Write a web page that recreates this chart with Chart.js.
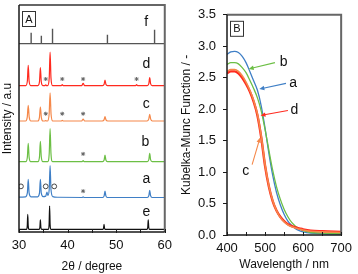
<!DOCTYPE html>
<html><head><meta charset="utf-8">
<script src="https://cdn.jsdelivr.net/npm/chart.js@4"></script>
<style>
html,body{margin:0;padding:0;background:#fff;width:358px;height:274px;overflow:hidden}
#wa{position:absolute;left:0;top:0;width:178px;height:274px}
#wb{position:absolute;left:176px;top:0;width:182px;height:274px}
</style></head><body>
<div id="wa"><canvas id="ca"></canvas></div>
<div id="wb"><canvas id="cb"></canvas></div>
<script>
// ================= Panel A : XRD patterns (2θ, relative intensity) =================
const xrdTicks = [30, 40, 50, 60];
const xrdMinorTicks = [30, 35, 40, 45, 50, 55, 60];
const xrdLabels = ['f', 'd', 'c', 'b', 'a', 'e'];
// reference sticks f: [2θ, height]
const sticksF = [[32.5, 4.8], [34.6, 3.5], [36.9, 6.5], [48.2, 3.9], [57.9, 6.1]];
const xrdD = [[30,0],[31.4,0],[31.72,2.0],[31.9,8.9],[32.08,2.0],[32.4,0],[33.9,0],[34.22,1.8],[34.4,7.9],[34.58,1.8],[34.9,0],[35.3,0],[35.5,0.3],[35.7,0],[35.9,0],[36.22,3.4],[36.4,14.7],[36.58,3.4],[36.9,0],[38.7,0],[38.9,0.4],[39.1,0],[42.9,0],[43.2,1.0],[43.5,0],[47.2,0],[47.52,0.6],[47.7,2.4],[47.88,0.6],[48.2,0],[54.0,0],[54.2,0.4],[54.4,0],[56.4,0],[56.72,0.9],[56.9,3.5],[57.08,0.9],[57.4,0],[60,0]];
const xrdC = [[30,0],[31.35,0],[31.7,1.7],[31.9,6.9],[32.1,1.7],[32.45,0],[33.85,0],[34.2,1.5],[34.4,6.1],[34.6,1.5],[34.95,0],[35.3,0],[35.5,0.2],[35.7,0],[35.85,0],[36.2,3.0],[36.4,12.4],[36.6,3.0],[36.95,0],[38.7,0],[38.9,0.3],[39.1,0],[42.9,0],[43.2,0.8],[43.5,0],[47.15,0],[47.5,0.5],[47.7,1.9],[47.9,0.5],[48.25,0],[56.35,0],[56.7,0.8],[56.9,2.9],[57.1,0.8],[57.45,0],[60,0]];
const xrdB = [[30,0],[31.4,0],[31.72,2.0],[31.9,8.0],[32.08,2.0],[32.4,0],[33.9,0],[34.22,2.2],[34.4,8.9],[34.58,2.2],[34.9,0],[35.9,0],[36.22,3.6],[36.4,14.5],[36.58,3.6],[36.9,0],[43.0,0],[43.2,0.4],[43.4,0],[47.2,0],[47.52,0.7],[47.7,2.9],[47.88,0.7],[48.2,0],[56.4,0],[56.72,0.9],[56.9,3.6],[57.08,0.9],[57.4,0],[60,0]];
const xrdA = [[30,0.2],[31.35,0.3],[31.72,2.0],[31.9,8.0],[32.08,2.0],[32.45,0.3],[33.85,0.3],[34.22,2.0],[34.4,8.0],[34.58,2.0],[34.95,0.4],[35.5,0.6],[35.75,2.4],[35.95,0.9],[36.22,3.6],[36.4,14.1],[36.58,3.6],[36.95,0.4],[38.0,0.1],[43.0,0],[43.2,0.3],[43.4,0],[47.2,0],[47.52,0.7],[47.7,2.8],[47.88,0.7],[48.2,0],[56.4,0],[56.72,0.8],[56.9,3.2],[57.08,0.8],[57.4,0],[60,0]];
const xrdE = [[30,0],[31.55,0],[31.7,1.4],[31.8,6.6],[31.9,1.4],[32.05,0],[34.15,0],[34.3,0.9],[34.4,4.1],[34.5,0.9],[34.65,0],[36.05,0],[36.2,2.2],[36.3,10.2],[36.4,2.2],[36.55,0],[47.25,0],[47.4,0.5],[47.5,2.2],[47.6,0.5],[47.75,0],[56.35,0],[56.5,0.9],[56.6,4.1],[56.7,0.9],[56.85,0],[60,0]];
// impurity marks: stars (*) and circles (o), [2θ, height above own baseline]
const starsD = [[35.5,2.9],[38.9,2.9],[43.2,2.9],[54.2,2.9]];
const starsC = [[35.5,3.2],[38.9,3.2],[43.2,3.2]];
const starsB = [[43.2,3.4]];
const starsA = [[43.2,2.8]];
const circlesA = [[30.4,4.9],[35.5,4.9],[37.25,4.9]];
// vertical stacking of the patterns
const stackOffset = {f: 83, d: 64.5, c: 48.9, b: 31, a: 15.2, e: 1.2};
const labelSpot = {f: [56.2, 92.3], d: [56.2, 74.1], c: [56.2, 56.2], b: [56.0, 39.4], a: [56.2, 23.4], e: [56.2, 8.9]};

// ================= Panel B : Kubelka-Munk spectra =================
const wavelength = [400,410,420,430,440,450,460,470,480,490,500,510,520,530,540,550,560,570,580,590,600,620,650,700];
const kmA = [2.87,2.91,2.92,2.90,2.84,2.74,2.60,2.45,2.30,2.05,1.70,1.30,0.95,0.68,0.48,0.33,0.22,0.15,0.10,0.07,0.05,0.03,0.02,0.01];
const kmB = [2.71,2.74,2.74,2.72,2.66,2.58,2.46,2.33,2.18,1.97,1.68,1.35,1.03,0.77,0.57,0.41,0.29,0.20,0.14,0.10,0.07,0.04,0.03,0.02];
const kmC = [2.60,2.63,2.63,2.60,2.53,2.43,2.30,2.14,1.92,1.57,1.12,0.78,0.55,0.39,0.28,0.21,0.16,0.13,0.11,0.095,0.08,0.06,0.05,0.04];
const kmD = [2.57,2.60,2.60,2.57,2.50,2.40,2.28,2.12,1.90,1.55,1.10,0.77,0.54,0.39,0.29,0.22,0.17,0.14,0.12,0.105,0.09,0.07,0.06,0.05];
const kmTicks = [0,0.5,1,1.5,2,2.5,3,3.5];
const wlMinorTicks = [400,450,500,550,600,650,700];
// callouts: label, [label x, y], [line start], [arrow tip]
const callouts = [
  {t:'b', c:'#6cbf45', lab:[549,2.75], from:[526,2.74], to:[457,2.64]},
  {t:'a', c:'#3f7fc6', lab:[574,2.42], from:[555,2.41], to:[485,2.32]},
  {t:'d', c:'#ff2a1f', lab:[577,1.99], from:[560,1.98], to:[488,1.90]},
  {t:'c', c:'#f5884a', lab:[449,1.02], from:[466,1.12], to:[487,1.55]}
];

const FONT = '"Liberation Sans", Arial, sans-serif';
Chart.defaults.font.family = FONT;
Chart.defaults.color = '#111';

function pts(arr, off){ return arr.map(p => ({x: p[0], y: p[1] + off})); }
function stickPath(st, off){
  const out = [{x: 30, y: off}];
  st.forEach(s => { out.push({x:s[0], y:off}, {x:s[0], y:off + s[1]}, {x:s[0], y:off}); });
  out.push({x: 60, y: off});
  return out;
}
function lineDs(data, color, w){
  return {type:'line', data, borderColor:color, borderWidth:w, pointRadius:0, fill:false, cubicInterpolationMode:'monotone', order:2};
}
function markDs(arr, off, style){
  return {type:'scatter', data: pts(arr, off), pointStyle: style, pointRadius: style==='star'?2.0:2.4,
    borderColor: style==='star'?'#666':'#333', backgroundColor: style==='star'?'#666':'#fff', borderWidth: style==='star'?1.0:0.9, order:1};
}

function drawFrame(ctx, ca){
  ctx.save();
  ctx.lineWidth = 2; ctx.strokeStyle = '#666';
  ctx.beginPath(); ctx.moveTo(ca.left, ca.top); ctx.lineTo(ca.right, ca.top); ctx.lineTo(ca.right, ca.bottom); ctx.stroke();
  ctx.lineWidth = 1.5; ctx.strokeStyle = '#1a1a1a';
  ctx.beginPath(); ctx.moveTo(ca.left, ca.top); ctx.lineTo(ca.left, ca.bottom); ctx.lineTo(ca.right, ca.bottom); ctx.stroke();
  ctx.restore();
}
function drawMinor(ctx, ca, xs, vals){
  ctx.save(); ctx.strokeStyle = '#1a1a1a'; ctx.lineWidth = 1;
  ctx.beginPath();
  vals.forEach(v => { const px = Math.round(xs.getPixelForValue(v)) + 0.5; ctx.moveTo(px, ca.bottom + 1); ctx.lineTo(px, ca.bottom - 3); });
  ctx.stroke(); ctx.restore();
}
function drawBoxLabel(ctx, ca, txt){
  ctx.save();
  ctx.strokeStyle = '#333'; ctx.lineWidth = 1;
  ctx.strokeRect(ca.left + 3.5, ca.top + 6.5, 13, 15);
  ctx.fillStyle = '#111'; ctx.font = '11px ' + FONT; ctx.textAlign = 'center'; ctx.textBaseline = 'middle';
  ctx.fillText(txt, ca.left + 10, ca.top + 14.5);
  ctx.restore();
}

const decoA = {
  id: 'decoA',
  afterDraw(chart){
    const {ctx, chartArea: ca, scales: {x, y}} = chart;
    drawFrame(ctx, ca);
    drawMinor(ctx, ca, x, xrdMinorTicks);
    drawBoxLabel(ctx, ca, 'A');
    ctx.save();
    ctx.fillStyle = '#111'; ctx.font = '14px ' + FONT; ctx.textAlign = 'center'; ctx.textBaseline = 'middle';
    xrdLabels.forEach(k => { const p = labelSpot[k]; ctx.fillText(k, x.getPixelForValue(p[0]), y.getPixelForValue(p[1])); });
    ctx.restore();
  }
};

new Chart(document.getElementById('ca'), {
  data: {
    datasets: [
      lineDs(stickPath(sticksF, stackOffset.f), '#555', 1.4),
      lineDs(pts(xrdD, stackOffset.d), '#ff2a1f', 1.2),
      lineDs(pts(xrdC, stackOffset.c), '#f5884a', 1.2),
      lineDs(pts(xrdB, stackOffset.b), '#6cbf45', 1.2),
      lineDs(pts(xrdA, stackOffset.a), '#3f7fc6', 1.2),
      lineDs(pts(xrdE, stackOffset.e), '#111', 1.2),
      markDs(starsD, stackOffset.d, 'star'),
      markDs(starsC, stackOffset.c, 'star'),
      markDs(starsB, stackOffset.b, 'star'),
      markDs(starsA, stackOffset.a, 'star'),
      markDs(circlesA, stackOffset.a, 'circle')
    ]
  },
  options: {
    responsive: true, maintainAspectRatio: false, animation: false, devicePixelRatio: 1,
    layout: {padding: {top: 3, right: 13, left: 0, bottom: 0}},
    plugins: {legend: {display: false}, tooltip: {enabled: false}},
    scales: {
      x: {type: 'linear', min: 30, max: 60, offset: false,
        afterBuildTicks: s => { s.ticks = xrdTicks.map(v => ({value: v})); },
        afterFit: s => { s.height = 42; },
        grid: {display: false, drawTicks: false}, border: {display: false},
        ticks: {font: {size: 13}, padding: 6, maxRotation: 0, color: '#111'},
        title: {display: true, text: '2θ / degree', font: {size: 12}, padding: {top: 0, bottom: 0}, color: '#111'}},
      y: {type: 'linear', min: 0, max: 100,
        afterFit: s => { s.width = 19; },
        grid: {display: false, drawTicks: false}, border: {display: false},
        ticks: {display: false},
        title: {display: true, text: 'Intensity / a.u', font: {size: 12}, padding: {top: 0, bottom: 0}, color: '#111'}}
    }
  },
  plugins: [decoA]
});

const decoB = {
  id: 'decoB',
  afterDraw(chart){
    const {ctx, chartArea: ca, scales: {x, y}} = chart;
    drawFrame(ctx, ca);
    drawMinor(ctx, ca, x, wlMinorTicks);
    drawBoxLabel(ctx, ca, 'B');
    ctx.save();
    callouts.forEach(o => {
      const x0 = x.getPixelForValue(o.from[0]), y0 = y.getPixelForValue(o.from[1]);
      const x1 = x.getPixelForValue(o.to[0]), y1 = y.getPixelForValue(o.to[1]);
      const ang = Math.atan2(y1 - y0, x1 - x0);
      ctx.strokeStyle = o.c; ctx.fillStyle = o.c; ctx.lineWidth = 1.1;
      ctx.beginPath(); ctx.moveTo(x0, y0); ctx.lineTo(x1 - 4 * Math.cos(ang), y1 - 4 * Math.sin(ang)); ctx.stroke();
      ctx.beginPath(); ctx.moveTo(x1, y1);
      ctx.lineTo(x1 - 5 * Math.cos(ang) + 2.2 * Math.sin(ang), y1 - 5 * Math.sin(ang) - 2.2 * Math.cos(ang));
      ctx.lineTo(x1 - 5 * Math.cos(ang) - 2.2 * Math.sin(ang), y1 - 5 * Math.sin(ang) + 2.2 * Math.cos(ang));
      ctx.closePath(); ctx.fill();
      ctx.fillStyle = '#111'; ctx.font = '14px ' + FONT; ctx.textAlign = 'center'; ctx.textBaseline = 'middle';
      ctx.fillText(o.t, x.getPixelForValue(o.lab[0]), y.getPixelForValue(o.lab[1]));
    });
    ctx.restore();
  }
};

const toXY = arr => arr.map((v, i) => ({x: wavelength[i], y: v}));
new Chart(document.getElementById('cb'), {
  data: {
    datasets: [
      {type:'line', data: toXY(kmC), borderColor:'#f5884a', borderWidth:1.6, pointRadius:0, cubicInterpolationMode:'monotone'},
      {type:'line', data: toXY(kmD), borderColor:'#ff2a1f', borderWidth:2.4, pointRadius:0, cubicInterpolationMode:'monotone'},
      {type:'line', data: toXY(kmB), borderColor:'#6cbf45', borderWidth:1.3, pointRadius:0, cubicInterpolationMode:'monotone'},
      {type:'line', data: toXY(kmA), borderColor:'#3f7fc6', borderWidth:1.3, pointRadius:0, cubicInterpolationMode:'monotone'}
    ]
  },
  options: {
    responsive: true, maintainAspectRatio: false, animation: false, devicePixelRatio: 1,
    layout: {padding: {top: 6, right: 11, left: 0, bottom: 0}},
    plugins: {legend: {display: false}, tooltip: {enabled: false}},
    scales: {
      x: {type: 'linear', min: 400, max: 700, offset: false,
        afterBuildTicks: s => { s.ticks = [400, 500, 600, 700].map(v => ({value: v})); },
        afterFit: s => { s.height = 39; },
        grid: {display: false, drawTicks: false}, border: {display: false},
        ticks: {font: {size: 13}, padding: 6, maxRotation: 0, color: '#111'},
        title: {display: true, text: 'Wavelength / nm', font: {size: 12}, padding: {top: 0, bottom: 2}, color: '#111'}},
      y: {type: 'linear', min: 0, max: 3.5,
        afterBuildTicks: s => { s.ticks = kmTicks.map(v => ({value: v})); },
        afterFit: s => { s.width = 51; },
        grid: {display: true, drawOnChartArea: false, drawTicks: true, tickLength: 4, color: '#1a1a1a'}, border: {display: false},
        ticks: {font: {size: 13}, padding: 7, color: '#111', callback: v => Number(v).toFixed(1)},
        title: {display: true, text: 'Kubelka-Munc Function / -', font: {size: 12}, padding: {top: 3, bottom: 0}, color: '#111'}}
    }
  },
  plugins: [decoB]
});
</script>
</body></html>
